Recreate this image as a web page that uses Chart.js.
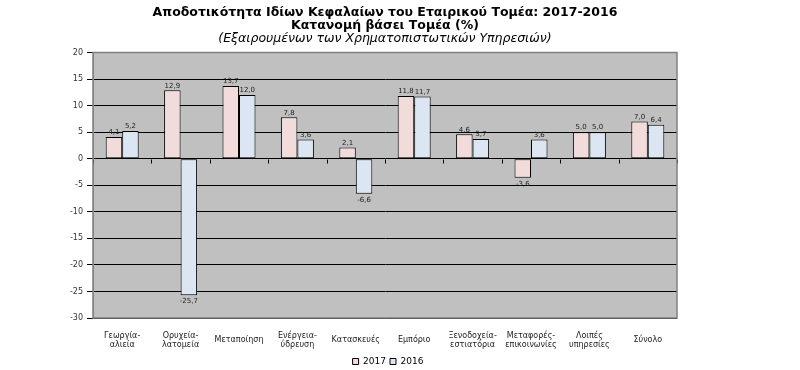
<!DOCTYPE html>
<html><head><meta charset="utf-8">
<script src="https://cdn.jsdelivr.net/npm/chart.js@4.4.1/dist/chart.umd.min.js"></script>
<style>html,body{margin:0;padding:0;background:#fff}#wrap{width:800px;height:370px}</style>
</head><body><div id="wrap"><canvas id="c" width="800" height="370"></canvas></div>
<script>
const categories = [["Γεωργία-","αλιεία"],["Ορυχεία-","λατομεία"],"Μεταποίηση",["Ενέργεια-","ύδρευση"],"Κατασκευές","Εμπόριο",["Ξενοδοχεία-","εστιατόρια"],["Μεταφορές-","επικοινωνίες"],["Λοιπές","υπηρεσίες"],"Σύνολο"];
const values2017 = [4.1, 12.9, 13.7, 7.8, 2.1, 11.8, 4.6, -3.6, 5.0, 7.0];
const values2016 = [5.2, -25.7, 12.0, 3.6, -6.6, 11.7, 3.7, 3.6, 5.0, 6.4];
const seriesNames = ["2017", "2016"];
const titleLines = ["Αποδοτικότητα Ιδίων Κεφαλαίων του Εταιρικού Τομέα: 2017-2016", "Κατανομή βάσει Τομέα (%)"];
const subtitleText = "(Εξαιρουμένων των Χρηματοπιστωτικών Υπηρεσιών)";

const FONT = "'DejaVu Sans', Verdana, sans-serif";

const plotDeco = {
  id: 'plotDeco',
  beforeDraw(chart) {
    const {ctx, chartArea: a} = chart;
    ctx.save();
    ctx.fillStyle = '#c0c0c0';
    ctx.fillRect(a.left, a.top, a.right - a.left, a.bottom - a.top);
    ctx.restore();
  },
  afterDatasetsDraw(chart) {
    const {ctx, chartArea: a} = chart;
    const y = chart.scales.y;
    const y0 = Math.round(y.getPixelForValue(0)) + 0.5;
    ctx.save();
    ctx.strokeStyle = '#000';
    ctx.lineWidth = 1;
    ctx.beginPath();
    const n = categories.length;
    const w = (a.right - a.left) / n;
    for (let i = 0; i <= n; i++) {
      const xx = Math.round(a.left + i * w) + 0.5;
      ctx.moveTo(xx, y0); ctx.lineTo(xx, y0 + 4);
    }
    ctx.stroke();
    ctx.strokeStyle = '#808080';
    ctx.lineWidth = 1.5;
    ctx.strokeRect(a.left, a.top, a.right - a.left, a.bottom - a.top);
    ctx.font = '7px ' + FONT;
    ctx.fillStyle = '#222';
    ctx.textAlign = 'center';
    chart.data.datasets.forEach((ds, di) => {
      const meta = chart.getDatasetMeta(di);
      meta.data.forEach((el, i) => {
        const v = ds.data[i];
        const txt = v.toFixed(1).replace('.', ',');
        if (v >= 0) { ctx.textBaseline = 'bottom'; ctx.fillText(txt, el.x, el.y - 1); }
        else { ctx.textBaseline = 'top'; ctx.fillText(txt, el.x, el.y + 3); }
      });
    });
    ctx.restore();
  }
};

new Chart(document.getElementById('c'), {
  type: 'bar',
  data: {
    labels: categories,
    datasets: [
      { label: seriesNames[0], data: values2017, backgroundColor: '#f2dcdb', borderColor: '#000', borderWidth: 1, borderSkipped: false },
      { label: seriesNames[1], data: values2016, backgroundColor: '#dce6f2', borderColor: '#000', borderWidth: 1, borderSkipped: false }
    ]
  },
  options: {
    responsive: false,
    animation: false,
    devicePixelRatio: 1,
    datasets: { bar: { categoryPercentage: 0.565, barPercentage: 1.0 } },
    layout: { padding: { left: 0, right: 24, top: 0, bottom: -6 } },
    plugins: {
      title: { display: true, fullSize: false, text: titleLines, color: '#000', font: { family: FONT, size: 12.5, weight: 'bold', lineHeight: 1.04 }, padding: { top: 6, bottom: 0 } },
      subtitle: { display: true, fullSize: false, text: subtitleText, color: '#000', font: { family: FONT, size: 12.5, style: 'italic', lineHeight: 1.04 }, padding: { top: 0, bottom: 7.5 } },
      legend: {
        display: true, position: 'bottom',
        labels: { boxWidth: 6, boxHeight: 6, padding: 4, color: '#222', font: { family: FONT, size: 9 },
          generateLabels(chart) {
            return chart.data.datasets.map((ds, i) => ({ text: ds.label, fillStyle: ds.backgroundColor, strokeStyle: '#000', lineWidth: 1, datasetIndex: i, hidden: false }));
          } }
      },
      tooltip: { enabled: false }
    },
    scales: {
      x: {
        grid: { display: false, drawTicks: false, tickLength: 0 },
        border: { display: false },
        ticks: { color: '#222', font: { family: FONT, size: 8, lineHeight: 1.06 }, padding: 18, maxRotation: 0, autoSkip: false, crossAlign: 'center' },
        afterFit(s) { s.height = 35; }
      },
      y: {
        min: -30, max: 20,
        ticks: { stepSize: 5, color: '#333', font: { family: FONT, size: 8 }, padding: 4 },
        grid: { color: '#000', lineWidth: 1, tickLength: 6, tickColor: '#000', drawTicks: true },
        border: { display: true, color: '#808080' },
        afterFit(s) { s.width = 93; }
      },
      yr: {
        position: 'right', display: true,
        grid: { display: false }, border: { display: false }, ticks: { display: false },
        afterFit(s) { s.width = 99; }
      }
    }
  },
  plugins: [plotDeco]
});
</script>
</body></html>
